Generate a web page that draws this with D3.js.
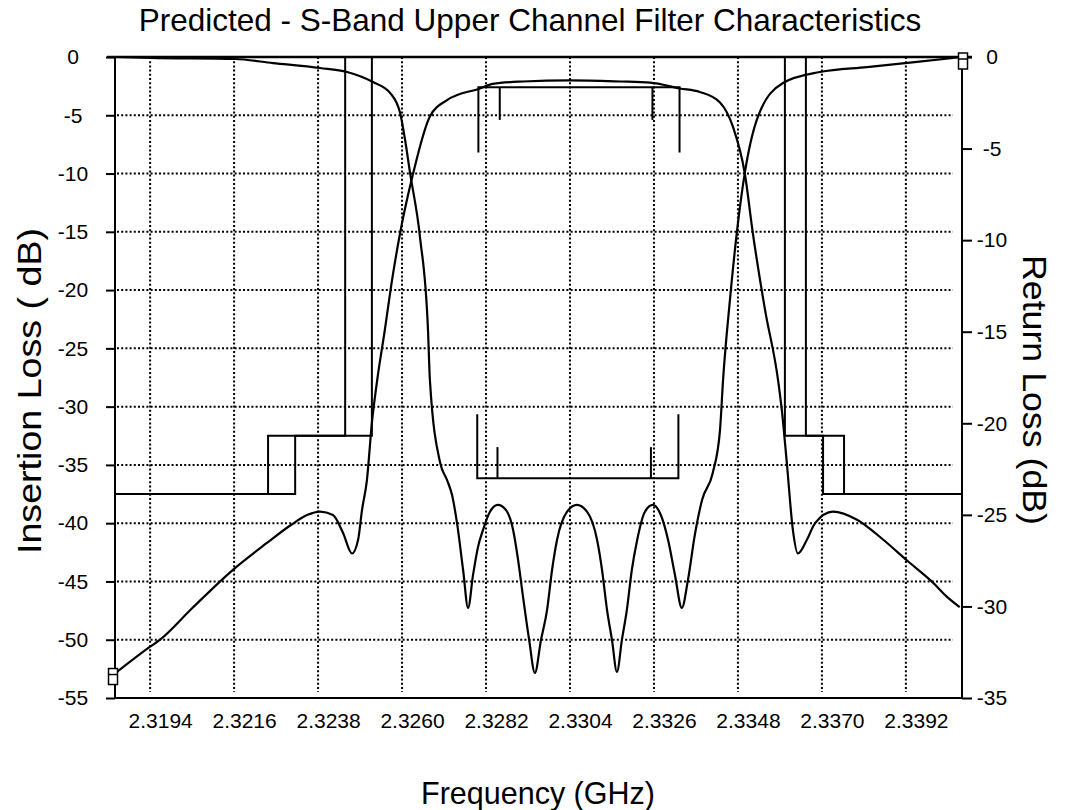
<!DOCTYPE html>
<html>
<head>
<meta charset="utf-8">
<script src="https://cdn.jsdelivr.net/npm/d3@7"></script>
<style>
  body { margin: 0; background: #fff; }
  text { font-family: "Liberation Sans", Arial, sans-serif; fill: #000; }
</style>
</head>
<body>
<svg id="chart" width="1066" height="810"></svg>
<script>
// Frequency axis (GHz) and the two dB axes
const freqTicks = [2.3194, 2.3216, 2.3238, 2.3260, 2.3282, 2.3304, 2.3326, 2.3348, 2.3370, 2.3392];
const freqDomain = [2.31848, 2.34067];
const insertionTicks = [0, -5, -10, -15, -20, -25, -30, -35, -40, -45, -50, -55];
const returnTicks = [0, -5, -10, -15, -20, -25, -30, -35];

// Insertion loss S21 (left axis, dB)
const s21Freq = [2.31848, 2.31940, 2.31966, 2.32050, 2.32157, 2.32246, 2.32307, 2.32351, 2.32385, 2.32419,
  2.32445, 2.32469, 2.32485, 2.32495, 2.32508, 2.32521, 2.32535, 2.32555, 2.32574, 2.32595,
  2.32629, 2.32673, 2.32718, 2.32804, 2.32838, 2.32917, 2.33040, 2.33171, 2.33250, 2.33328,
  2.33380, 2.33433, 2.33467, 2.33498, 2.33519, 2.33551, 2.33585, 2.33595, 2.33608, 2.33624,
  2.33637, 2.33661, 2.33682, 2.33729, 2.33792, 2.33860, 2.33923, 2.33991, 2.34027, 2.34061];
const s21Db = [-52.9, -50.6, -50.0, -47.3, -44.0, -41.7, -40.2, -39.3, -39.0, -39.3,
  -40.8, -42.6, -41.4, -38.9, -36.3, -31.4, -27.7, -23.4, -19.1, -15.1,
  -10.0, -5.1, -3.7, -2.7, -2.3, -2.1, -2.0, -2.1, -2.2, -2.7,
  -3.0, -3.9, -6.0, -10.0, -15.1, -21.7, -27.7, -30.3, -34.8, -40.6,
  -42.6, -41.4, -40.0, -39.0, -39.7, -41.4, -43.2, -45.1, -46.3, -47.2];

// Return loss S11 (right axis, dB)
const s11Freq = [2.31848, 2.31940, 2.32163, 2.32262, 2.32385, 2.32456, 2.32524, 2.32569, 2.32595, 2.32608,
  2.32621, 2.32647, 2.32668, 2.32673, 2.32700, 2.32718, 2.32731, 2.32744, 2.32760, 2.32773,
  2.32786, 2.32799, 2.32812, 2.32830, 2.32851, 2.32872, 2.32891, 2.32904, 2.32917, 2.32933,
  2.32948, 2.32964, 2.32980, 2.32993, 2.33006, 2.33032, 2.33058, 2.33085, 2.33111, 2.33124,
  2.33137, 2.33150, 2.33163, 2.33176, 2.33189, 2.33202, 2.33216, 2.33236, 2.33257, 2.33278,
  2.33297, 2.33315, 2.33333, 2.33349, 2.33367, 2.33386, 2.33414, 2.33433, 2.33441, 2.33459,
  2.33477, 2.33498, 2.33532, 2.33598, 2.33695, 2.33818, 2.33949, 2.34067];
const s11Db = [0, -0.05, -0.11, -0.33, -0.60, -0.82, -1.37, -1.97, -3.06, -4.53,
  -6.33, -9.83, -14.91, -17.64, -22.17, -23.10, -23.92, -25.44, -28.01, -30.08,
  -28.28, -26.75, -25.83, -24.84, -24.46, -24.73, -25.83, -27.46, -29.48, -31.83,
  -33.63, -31.83, -30.19, -28.01, -26.37, -24.84, -24.46, -24.84, -26.37, -28.01,
  -30.19, -31.83, -33.58, -31.83, -30.19, -28.01, -26.37, -24.84, -24.46, -25.01,
  -26.37, -28.28, -30.08, -28.56, -26.10, -24.19, -22.71, -20.37, -17.64, -13.27,
  -9.61, -6.33, -3.28, -1.42, -0.82, -0.55, -0.27, 0];

// Stopband rejection masks (left axis): two frequency-shifted copies per side
const rejectionMaskLow = [
  [[2.31848, -37.5], [2.32249, -37.5], [2.32249, -32.5], [2.32451, -32.5], [2.32451, 0]],
  [[2.31848, -37.5], [2.32320, -37.5], [2.32320, -32.5], [2.32521, -32.5], [2.32521, 0]]
];
const rejectionMaskHigh = [
  [[2.33603, 0], [2.33603, -32.5], [2.33703, -32.5], [2.33703, -37.5], [2.34067, -37.5]],
  [[2.33658, 0], [2.33658, -32.5], [2.33758, -32.5], [2.33758, -37.5], [2.34067, -37.5]]
];
// Passband insertion loss limit (left axis)
const passbandLossMask = [
  [[2.32800, -8.2], [2.32800, -2.6], [2.33327, -2.6], [2.33327, -8.2]],
  [[2.32856, -5.4], [2.32856, -2.6]],
  [[2.33256, -5.4], [2.33256, -2.6]]
];
// Passband return loss limit (right axis)
const returnLossMask = [
  [[2.32797, -19.5], [2.32797, -23.0], [2.33324, -23.0], [2.33324, -19.5]],
  [[2.32850, -21.3], [2.32850, -23.0]],
  [[2.33252, -21.3], [2.33252, -23.0]]
];

const plotLeft = 115, plotRight = 962, plotTop = 57, plotBottom = 698;
const svg = d3.select("#chart");

const x = d3.scaleLinear().domain(freqDomain).range([plotLeft, plotRight]);
const yIL = d3.scaleLinear().domain([-55, 0]).range([plotBottom, plotTop]);
const yRL = d3.scaleLinear().domain([-35, 0]).range([plotBottom, plotTop]);

// Dotted grid
const grid = svg.append("g")
  .attr("stroke", "#000").attr("stroke-width", 2).attr("stroke-dasharray", "2,2.2");
grid.selectAll("line.v").data(freqTicks).join("line")
  .attr("class", "v")
  .attr("x1", d => x(d)).attr("x2", d => x(d))
  .attr("y1", plotTop).attr("y2", plotBottom - 6);
grid.selectAll("line.h").data(insertionTicks.filter(d => d < 0 && d > -55)).join("line")
  .attr("class", "h")
  .attr("x1", plotLeft + 2).attr("x2", plotRight - 9)
  .attr("y1", d => yIL(d)).attr("y2", d => yIL(d));

// Mask lines
const maskLineIL = d3.line().x(d => x(d[0])).y(d => yIL(d[1]));
const maskLineRL = d3.line().x(d => x(d[0])).y(d => yRL(d[1]));
const masks = svg.append("g").attr("fill", "none").attr("stroke", "#000").attr("stroke-width", 2);
masks.selectAll("path.low").data(rejectionMaskLow).join("path").attr("class", "low").attr("d", maskLineIL);
masks.selectAll("path.high").data(rejectionMaskHigh).join("path").attr("class", "high").attr("d", maskLineIL);
masks.selectAll("path.pil").data(passbandLossMask).join("path").attr("class", "pil").attr("d", maskLineIL);
masks.selectAll("path.prl").data(returnLossMask).join("path").attr("class", "prl").attr("d", maskLineRL);

// Response curves
const s21 = s21Freq.map((f, i) => [f, s21Db[i]]);
const s11 = s11Freq.map((f, i) => [f, s11Db[i]]);
const curves = svg.append("g").attr("fill", "none").attr("stroke", "#000")
  .attr("stroke-width", 2.2).attr("stroke-linejoin", "round");
curves.append("path").attr("d",
  d3.line().x(d => x(d[0])).y(d => yIL(d[1])).curve(d3.curveMonotoneX)(s21));
curves.append("path").attr("d",
  d3.line().x(d => x(d[0])).y(d => yRL(d[1])).curve(d3.curveMonotoneX)(s11));

// Frame
const frame = svg.append("g").attr("stroke", "#000").attr("stroke-width", 2);
frame.append("line").attr("x1", plotLeft - 8).attr("x2", plotRight + 10).attr("y1", plotTop).attr("y2", plotTop).attr("stroke-width", 2.5);
frame.append("line").attr("x1", plotLeft).attr("x2", plotRight).attr("y1", plotBottom).attr("y2", plotBottom);
frame.append("line").attr("x1", plotLeft).attr("x2", plotLeft).attr("y1", plotTop).attr("y2", plotBottom);
frame.append("line").attr("x1", plotRight).attr("x2", plotRight).attr("y1", plotTop).attr("y2", plotBottom);

// Axes
const fmtInt = d => String(d);
const axL = svg.append("g").attr("transform", `translate(${plotLeft},0)`)
  .call(d3.axisLeft(yIL).tickValues(insertionTicks).tickSize(9).tickFormat(fmtInt));
axL.select(".domain").remove();
axL.selectAll(".tick line").attr("stroke-width", 2);
axL.selectAll(".tick text").attr("x", -42).attr("text-anchor", "middle")
  .style("font-size", "21px").attr("font-family", null);

const axR = svg.append("g").attr("transform", `translate(${plotRight},0)`)
  .call(d3.axisRight(yRL).tickValues(returnTicks).tickSize(10).tickFormat(fmtInt));
axR.select(".domain").remove();
axR.selectAll(".tick line").attr("stroke-width", 2);
axR.selectAll(".tick text").attr("x", 30).attr("text-anchor", "middle")
  .style("font-size", "21px").attr("font-family", null);

const axB = svg.append("g").attr("transform", `translate(0,${plotBottom})`)
  .call(d3.axisBottom(x).tickValues(freqTicks).tickSize(0).tickFormat(d => d.toFixed(4)));
axB.select(".domain").remove();
axB.selectAll(".tick text").attr("x", 10).attr("y", 30).attr("dy", null)
  .style("font-size", "21px").attr("font-family", null);

// End-point markers
const markers = [[x(s21Freq[0]) - 2, yIL(s21Db[0]) + 3], [x(s11Freq[s11Freq.length - 1]) + 1, yRL(s11Db[s11Db.length - 1]) + 4]];
const mk = svg.append("g").attr("stroke", "#000").attr("stroke-width", 1.5).attr("fill", "#fff");
markers.forEach(([cx, cy]) => {
  mk.append("rect").attr("x", cx - 4.5).attr("y", cy - 8).attr("width", 9).attr("height", 16);
  mk.append("line").attr("x1", cx - 4.5).attr("x2", cx + 4.5).attr("y1", cy - 2).attr("y2", cy - 2);
});

// Titles
svg.append("text").attr("x", 530).attr("y", 31).attr("text-anchor", "middle")
  .style("font-size", "31.5px").text("Predicted - S-Band Upper Channel Filter Characteristics");
svg.append("text").attr("transform", "translate(41,391) rotate(-90)").attr("text-anchor", "middle")
  .attr("textLength", 326).attr("lengthAdjust", "spacingAndGlyphs")
  .style("font-size", "33px").text("Insertion Loss ( dB)");
svg.append("text").attr("transform", "translate(1023,390) rotate(90)").attr("text-anchor", "middle")
  .attr("textLength", 270).attr("lengthAdjust", "spacingAndGlyphs")
  .style("font-size", "33px").text("Return Loss  (dB)");
svg.append("text").attr("x", 538).attr("y", 804).attr("text-anchor", "middle")
  .style("font-size", "30.5px").text("Frequency (GHz)");
</script>
</body>
</html>
